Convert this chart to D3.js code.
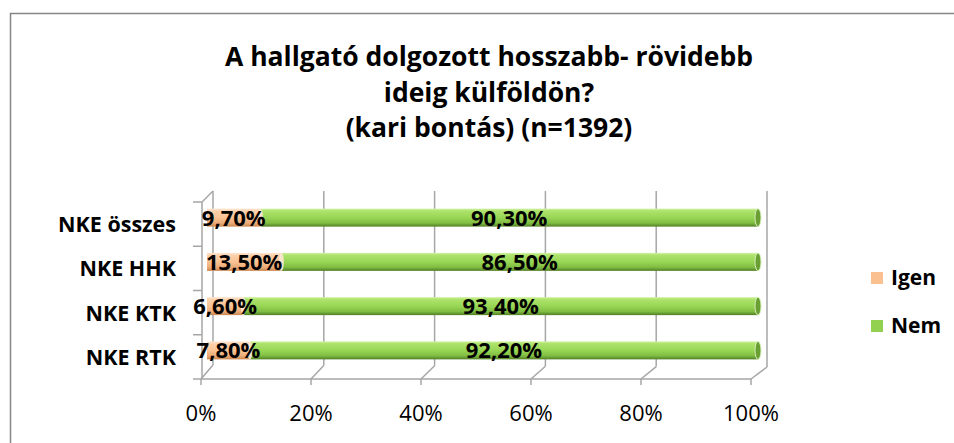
<!DOCTYPE html>
<html><head><meta charset="utf-8">
<script src="https://cdn.jsdelivr.net/npm/d3@7"></script>
<style>
html,body{margin:0;padding:0;background:#fff;}
svg{display:block;}
text{font-family:"Open Sans",sans-serif;}
</style></head>
<body><svg id="c" width="954" height="443"></svg>
<script>
const titleLines = ["A hallgató dolgozott hosszabb- rövidebb", "ideig külföldön?", "(kari bontás) (n=1392)"];
const categories = ["NKE összes", "NKE HHK", "NKE KTK", "NKE RTK"];
const seriesNames = ["Igen", "Nem"];
const igen = [9.7, 13.5, 6.6, 7.8];
const nem = [90.3, 86.5, 93.4, 92.2];
const tickValues = [0, 20, 40, 60, 80, 100];
const tickLabels = ["0%", "20%", "40%", "60%", "80%", "100%"];

const svg = d3.select("#c");
const defs = svg.append("defs");

function grad(id, stops){
  const g = defs.append("linearGradient").attr("id", id).attr("x1",0).attr("y1",0).attr("x2",0).attr("y2",1);
  stops.forEach(s => g.append("stop").attr("offset", s[0]).attr("stop-color", s[1]));
}
grad("gGreen", [[0,"#d2f3a8"],[0.12,"#aee36c"],[0.5,"#98d655"],[0.8,"#80bd42"],[1,"#527f25"]]);
grad("gOrange", [[0,"#fde6d2"],[0.15,"#fcd0aa"],[0.5,"#fac394"],[0.8,"#ecab78"],[1,"#c98650"]]);
const fills = {Igen:"url(#gOrange)", Nem:"url(#gGreen)"};
const solid = {Igen:"#fac090", Nem:"#92d050"};

// border
svg.append("rect").attr("x",10.5).attr("y",13.5).attr("width",1000).attr("height",500)
  .attr("fill","none").attr("stroke","#868686").attr("stroke-width",1.5);

// title
svg.append("g").selectAll("text").data(titleLines).join("text")
  .attr("x", 489).attr("y", (d,i) => 66 + i*35.5)
  .attr("text-anchor","middle").attr("font-weight","bold").attr("font-size",26.5)
  .attr("fill","#000").text(d => d);

// scales
const yFront = d3.scaleBand().domain(categories).range([202, 379]);
const xFront = d3.scaleLinear().domain([0,100]).range([201, 751]);
const xBack = d3.scaleLinear().domain([0,100]).range([213, 767]);
const xBar = d3.scaleLinear().domain([0,100]).range([207, 758]);
const yFloorFront = 379, yBackTop = 191;
const yBackFloor = d3.scaleLinear().domain([0,100]).range([365, 367]);
const axisCol = "#a6a6a6";

const walls = svg.append("g").attr("stroke", axisCol).attr("stroke-width",1.5).attr("fill","none");
walls.selectAll("line.grid").data(tickValues).join("line")
  .attr("x1", d => xBack(d)).attr("x2", d => xBack(d))
  .attr("y1", yBackTop).attr("y2", d => yBackFloor(d));
walls.append("line").attr("x1", xFront(0)+1).attr("x2", xFront(0)+1).attr("y1", 202).attr("y2", yFloorFront);
walls.append("line").attr("x1", xFront(0)+1).attr("x2", xBack(0)).attr("y1", 202).attr("y2", yBackTop);
walls.selectAll("line.lt").data(categories.concat(["_end"])).join("line")
  .attr("x1", xFront(0)-8).attr("x2", xFront(0)+1)
  .attr("y1", (d,i) => 202 + i*yFront.step()).attr("y2", (d,i) => 202 + i*yFront.step());
walls.append("line").attr("x1", xFront(0)).attr("x2", xFront(100)).attr("y1", yFloorFront).attr("y2", yFloorFront);
walls.selectAll("line.diag").data(tickValues).join("line")
  .attr("x1", d => xFront(d)).attr("x2", d => xBack(d))
  .attr("y1", yFloorFront).attr("y2", d => yBackFloor(d));
walls.selectAll("line.bt").data(tickValues).join("line")
  .attr("x1", d => xFront(d)).attr("x2", d => xFront(d))
  .attr("y1", yFloorFront).attr("y2", yFloorFront+6);

// tick labels
svg.append("g").selectAll("text").data(tickValues).join("text")
  .attr("x", d => xFront(d)).attr("y", 421)
  .attr("text-anchor","middle").attr("font-size",22).attr("fill","#000")
  .text((d,i) => tickLabels[i]);

// category labels
svg.append("g").selectAll("text").data(categories).join("text")
  .attr("x", 176).attr("y", d => yFront(d) + yFront.bandwidth()/2 + 8)
  .attr("text-anchor","end").attr("font-weight","bold").attr("font-size",21.5).attr("fill","#000")
  .text(d => d);

// bars
const rows = categories.map((c,i) => ({cat:c, segs:[
  {name:"Igen", v0:0, v1:igen[i]},
  {name:"Nem", v0:igen[i], v1:igen[i]+nem[i]}
]}));
const barH = 18;
const barY = c => yFront(c) + yFront.bandwidth()/2 - 6.5 - barH/2;
const bars = svg.append("g");
rows.forEach(r => {
  const g = bars.append("g");
  g.selectAll("rect").data(r.segs).join("rect")
    .attr("x", d => xBar(d.v0)).attr("width", d => xBar(d.v1)-xBar(d.v0))
    .attr("y", barY(r.cat)).attr("height", barH)
    .attr("fill", d => fills[d.name]);
  g.append("ellipse").attr("cx", xBar(r.segs[0].v1)).attr("cy", barY(r.cat)+barH/2)
    .attr("rx", 2.5).attr("ry", barH/2).attr("fill","#fde7d3").attr("opacity",0.9);
  g.append("ellipse").attr("cx", xBar(100)).attr("cy", barY(r.cat)+barH/2)
    .attr("rx", 3).attr("ry", barH/2).attr("fill","#6a9f33").attr("stroke","#d8f0bc").attr("stroke-width",1);
});

// bar labels
const labels = svg.append("g");
rows.forEach(r => {
  labels.selectAll(null).data(r.segs).join("text")
    .attr("x", d => xBar((d.v0+d.v1)/2)).attr("y", barY(r.cat)+barH/2 + 8)
    .attr("text-anchor","middle").attr("font-weight","bold").attr("font-size",22).attr("fill","#000")
    .text(d => d3.format(".2f")(d.v1-d.v0).replace(".", ",") + "%");
});

// legend
const leg = svg.append("g").selectAll("g").data(seriesNames).join("g")
  .attr("transform", (d,i) => `translate(871, ${272 + i*48})`);
leg.append("rect").attr("width",12).attr("height",12).attr("fill", d => solid[d]);
leg.append("text").attr("x", 20).attr("y", 13).attr("font-weight","bold").attr("font-size",21).attr("fill","#000").text(d => d);
</script></body></html>
